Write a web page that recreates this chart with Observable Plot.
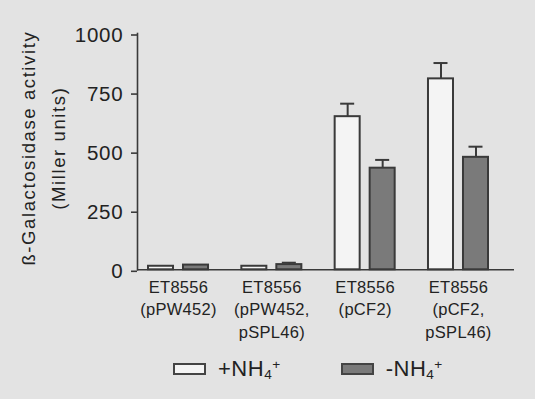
<!DOCTYPE html>
<html>
<head>
<meta charset="utf-8">
<script src="https://cdn.jsdelivr.net/npm/d3@7"></script>
<script src="https://cdn.jsdelivr.net/npm/@observablehq/plot@0.6"></script>
<style>
  html, body { margin: 0; padding: 0; background: #e3e3e3; width: 535px; height: 399px; overflow: hidden; }
  #chart svg { display: block; }
  #legend { height: 48px; display: flex; align-items: center; padding-left: 173px;
    font-family: "Liberation Sans", Arial, sans-serif; font-size: 22px; color: #222; letter-spacing: 0.5px; }
  .sw { width: 29px; height: 8px; border: 2px solid #444; display: inline-block; margin-right: 12px; }
  .lab { display: inline-block; }
  .lab sub { font-size: 0.62em; vertical-align: -0.25em; line-height: 0; }
  .lab sup { font-size: 0.62em; vertical-align: 0.55em; line-height: 0; }
</style>
</head>
<body>
<div id="chart"></div>
<div id="legend">
  <span class="sw" style="background:#f4f4f4"></span><span class="lab" style="margin-right:60px">+NH<sub>4</sub><sup>+</sup></span>
  <span class="sw" style="background:#7a7a7a"></span><span class="lab">-NH<sub>4</sub><sup>+</sup></span>
</div>
<script>
const categories = ["ET8556\n(pPW452)", "ET8556\n(pPW452,\npSPL46)", "ET8556\n(pCF2)", "ET8556\n(pCF2,\npSPL46)"];
const plusNH4 = [15, 15, 648, 808];
const plusErr = [0, 0, 55, 67];
const minusNH4 = [20, 22, 430, 476];
const minusErr = [0, 8, 35, 45];
const yTicks = [0, 250, 500, 750, 1000];
const yTitle1 = "ß-Galactosidase activity";
const yTitle2 = "(Miller units)";

const rows = categories.map((c, i) => ({
  cat: c, plus: plusNH4[i], plusTop: plusNH4[i] + plusErr[i],
  minus: minusNH4[i], minusTop: minusNH4[i] + minusErr[i]
}));

const ink = "#3a3a3a";
const plot = Plot.plot({
  width: 535,
  height: 345,
  marginLeft: 137,
  marginRight: 21,
  marginTop: 33,
  marginBottom: 75.7,
  style: { background: "transparent", fontFamily: "'Liberation Sans', Arial, sans-serif", color: "#222", overflow: "visible" },
  x: { domain: categories, range: [148, 488], paddingInner: 0.357, paddingOuter: 0, round: false, axis: null, label: null },
  y: { domain: [0, 1000], axis: null, label: null },
  marks: [
    Plot.barY(rows, { x: "cat", y: "plus", fill: "#f4f4f4", stroke: ink, strokeWidth: 2, insetRight: 35 }),
    Plot.barY(rows, { x: "cat", y: "minus", fill: "#7a7a7a", stroke: ink, strokeWidth: 2, insetLeft: 35 }),
    Plot.ruleX(rows.filter(d => d.plusTop > d.plus), { x: "cat", y1: "plus", y2: "plusTop", dx: -17.5, stroke: ink, strokeWidth: 2 }),
    Plot.tickY(rows.filter(d => d.plusTop > d.plus), { x: "cat", y: "plusTop", insetLeft: 5.5, insetRight: 40.5, stroke: ink, strokeWidth: 2 }),
    Plot.ruleX(rows.filter(d => d.minusTop > d.minus), { x: "cat", y1: "minus", y2: "minusTop", dx: 17.5, stroke: ink, strokeWidth: 2 }),
    Plot.tickY(rows.filter(d => d.minusTop > d.minus), { x: "cat", y: "minusTop", insetLeft: 40.5, insetRight: 5.5, stroke: ink, strokeWidth: 2 }),
    Plot.ruleY([0], { stroke: ink, strokeWidth: 1.6 }),
    Plot.frame({ anchor: "left", stroke: ink, strokeWidth: 1.6 }),
    Plot.axisY({ ticks: yTicks, tickFormat: d => String(d), label: null, tickSize: 6, tickPadding: 8, fontSize: 20.5, stroke: ink, strokeWidth: 1.6, dy: 1.5 }),
    Plot.axisX({ tickSize: 0, tickPadding: 7, fontSize: 16.5, lineHeight: 1.36, label: null }),
    Plot.text([yTitle1], { text: d => d, frameAnchor: "left", textAnchor: "middle", rotate: -90, dx: -108, dy: -3.5, fontSize: 18.5 }),
    Plot.text([yTitle2], { text: d => d, frameAnchor: "left", textAnchor: "middle", rotate: -90, dx: -78, dy: -3.5, fontSize: 18.5 })
  ]
});
document.getElementById("chart").appendChild(plot);
const svg = d3.select(plot);
svg.selectAll('g[aria-label="y-axis tick label"] text').attr("letter-spacing", "0.8px");
svg.selectAll('g[aria-label="x-axis tick label"] text').attr("letter-spacing", "0.3px");
svg.selectAll('g[aria-label="text"] text').attr("letter-spacing", "1.6px");
</script>
</body>
</html>
